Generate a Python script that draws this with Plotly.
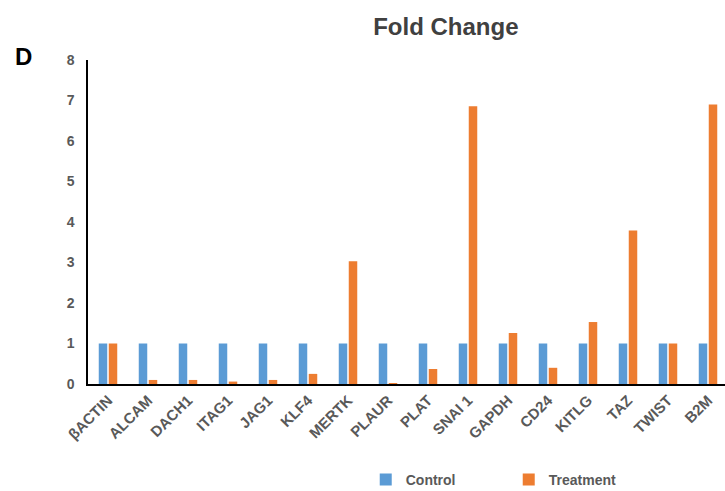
import plotly.graph_objects as go

genes = ["βACTIN", "ALCAM", "DACH1", "ITAG1", "JAG1", "KLF4", "MERTK", "PLAUR",
         "PLAT", "SNAI 1", "GAPDH", "CD24", "KITLG", "TAZ", "TWIST", "B2M"]
control = [1, 1, 1, 1, 1, 1, 1, 1, 1, 1, 1, 1, 1, 1, 1, 1]
treatment = [1.0, 0.1, 0.1, 0.06, 0.1, 0.25, 3.03, 0.02,
             0.37, 6.86, 1.26, 0.4, 1.53, 3.79, 1.0, 6.9]
y_ticks = [0, 1, 2, 3, 4, 5, 6, 7, 8]

BLUE = "#5B9BD5"
ORANGE = "#ED7D31"
GREY = "#595959"

fig = go.Figure()
fig.add_trace(go.Bar(x=genes, y=control, name="Control", marker_color=BLUE,
                     marker_line_width=0))
fig.add_trace(go.Bar(x=genes, y=treatment, name="Treatment", marker_color=ORANGE,
                     marker_line_width=0))

fig.update_layout(
    width=725, height=491,
    margin=dict(l=88, r=0, t=60, b=107, autoexpand=False),
    paper_bgcolor="white", plot_bgcolor="white",
    font=dict(family="Liberation Sans, Arial, sans-serif", color=GREY),
    barmode="group", bargap=0.5, bargroupgap=0.15,
    showlegend=True,
    legend=dict(orientation="h", x=0.436, y=-0.296, xanchor="left", yanchor="middle",
                font=dict(size=14, color=GREY, weight="bold"),
                entrywidth=98, entrywidthmode="pixels",
                itemclick=False, itemdoubleclick=False),
    title=dict(text="Fold Change", x=0.615, xanchor="center", y=0.945, yanchor="middle",
               font=dict(size=24, color="#404040", weight="bold")),
    annotations=[dict(text="D", xref="paper", yref="paper", x=-0.1005, y=1.012,
                      xanchor="center", yanchor="middle", showarrow=False,
                      font=dict(size=24, color="black", weight="bold"))],
)

fig.update_xaxes(
    range=[-0.5, 15.425], showline=True, linecolor="black", linewidth=1.5,
    showgrid=False, ticks="", tickangle=-45, automargin=False,
    tickfont=dict(size=15, color=GREY, weight="bold"),
)
fig.update_yaxes(
    range=[0, 8], tickvals=y_ticks, showline=True, linecolor="black", linewidth=1.5,
    showgrid=False, zeroline=False, ticks="", ticklabelstandoff=9, automargin=False,
    tickfont=dict(size=14, color=GREY, weight="bold"),
)

fig.write_html("out.html")
